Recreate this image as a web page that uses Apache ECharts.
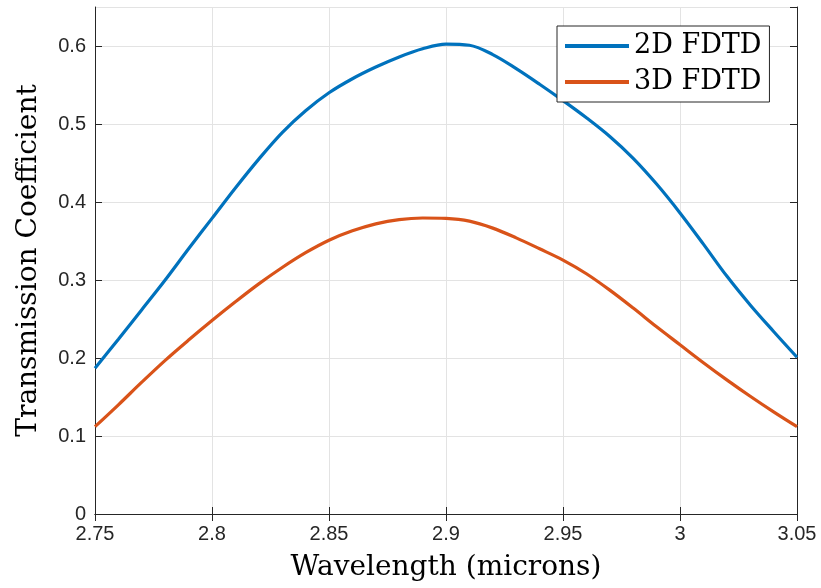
<!DOCTYPE html>
<html>
<head>
<meta charset="utf-8">
<script src="https://cdn.jsdelivr.net/npm/echarts@6/dist/echarts.min.js"></script>
<style>html,body{margin:0;padding:0;background:#fff;}#chart{width:821px;height:588px;}</style>
</head>
<body>
<div id="chart"></div>
<script>
var wavelength = [2.75,2.76,2.77,2.78,2.79,2.80,2.81,2.82,2.83,2.84,2.85,2.86,2.87,2.88,2.89,2.90,2.91,2.92,2.93,2.94,2.95,2.96,2.97,2.98,2.99,3.00,3.01,3.02,3.03,3.04,3.05];
var t2d = [0.187,0.224,0.262,0.300,0.340,0.379,0.418,0.455,0.489,0.517,0.540,0.558,0.573,0.586,0.5965,0.6025,0.601,0.589,0.571,0.551,0.530,0.508,0.484,0.456,0.423,0.386,0.346,0.305,0.268,0.234,0.201];
var t3d = [0.112,0.140,0.169,0.197,0.223,0.248,0.272,0.295,0.316,0.335,0.351,0.363,0.372,0.3775,0.3795,0.379,0.3755,0.3665,0.354,0.340,0.3255,0.308,0.287,0.264,0.240,0.217,0.194,0.172,0.151,0.131,0.112];
var seriesNames = ['2D FDTD','3D FDTD'];
var xTitle = 'Wavelength (microns)';
var yTitle = 'Transmission Coefficient';

function pairs(xs, ys){ return xs.map(function(x,i){ return [x, ys[i]]; }); }

var axisColor = '#262626';
var gridColor = '#e3e3e3';
var chart = echarts.init(document.getElementById('chart'), null, {renderer:'canvas'});
var labelFont = {fontFamily:'Liberation Sans, Arial, sans-serif', fontSize:20, color:axisColor};
chart.setOption({
  animation:false,
  backgroundColor:'#fff',
  grid:{left:95, right:24, top:7, bottom:74, containLabel:false},
  legend:{
    left:557, top:26, orient:'vertical',
    backgroundColor:'#fff', borderColor:'#262626', borderWidth:1,
    padding:[6,8,6,8], itemGap:8, itemWidth:64, itemHeight:4,
    icon:'rect',
    textStyle:{fontFamily:'DejaVu Serif, serif', fontSize:27, color:'#000', lineHeight:28},
    data:seriesNames
  },
  xAxis:[{
    type:'value', min:2.75, max:3.05, interval:0.05,
    name:xTitle, nameLocation:'middle', nameGap:40,
    nameTextStyle:{fontFamily:'DejaVu Serif, serif', fontSize:28, color:'#000'},
    axisLine:{show:true, lineStyle:{color:axisColor, width:1}},
    axisTick:{show:true, inside:true, length:7, lineStyle:{color:axisColor}},
    axisLabel:Object.assign({margin:10, formatter:function(v){return String(parseFloat(v.toFixed(2)));}}, labelFont),
    splitLine:{show:true, lineStyle:{color:gridColor, width:1}}
  },{
    type:'value', position:'top', min:2.75, max:3.05, interval:0.05,
    axisLine:{show:true, lineStyle:{color:axisColor, width:1}},
    axisTick:{show:true, inside:true, length:7, lineStyle:{color:axisColor}},
    axisLabel:{show:false}, splitLine:{show:false}
  }],
  yAxis:[{
    type:'value', min:0, max:0.65, interval:0.1,
    name:yTitle, nameLocation:'middle', nameGap:52, nameRotate:90,
    nameTextStyle:{fontFamily:'DejaVu Serif, serif', fontSize:28, color:'#000'},
    axisLine:{show:true, lineStyle:{color:axisColor, width:1}},
    axisTick:{show:true, inside:true, length:7, lineStyle:{color:axisColor}},
    axisLabel:Object.assign({margin:9, showMaxLabel:false, formatter:function(v){ if (v>0.62) return ''; return String(parseFloat(v.toFixed(2)));}}, labelFont),
    splitLine:{show:true, lineStyle:{color:gridColor, width:1}}
  },{
    type:'value', position:'right', min:0, max:0.65, interval:0.1,
    axisLine:{show:true, lineStyle:{color:axisColor, width:1}},
    axisTick:{show:true, inside:true, length:7, lineStyle:{color:axisColor}},
    axisLabel:{show:false}, splitLine:{show:false}
  }],
  series:[{
    name:seriesNames[0], type:'line', data:pairs(wavelength,t2d),
    smooth:0.35, symbol:'none', lineStyle:{color:'#0072BD', width:3.2}, itemStyle:{color:'#0072BD'}
  },{
    name:seriesNames[1], type:'line', data:pairs(wavelength,t3d),
    smooth:0.35, symbol:'none', lineStyle:{color:'#D95319', width:3.2}, itemStyle:{color:'#D95319'}
  }]
});
</script>
</body>
</html>
